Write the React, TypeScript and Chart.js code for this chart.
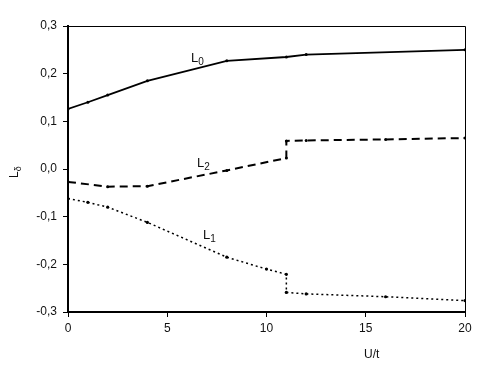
import React, { useEffect, useRef } from "react";
import { Chart, registerables } from "chart.js";

Chart.register(...registerables);

const L0_X = [0, 1, 2, 4, 8, 11, 12, 20];
const L0_Y = [0.126, 0.14, 0.155, 0.185, 0.227, 0.235, 0.24, 0.25];

const L2_X = [0, 2, 4, 8, 11, 11, 12, 16, 20];
const L2_Y = [-0.027, -0.037, -0.036, -0.003, 0.023, 0.059, 0.06, 0.062, 0.065];

const L1_X = [0, 1, 2, 4, 8, 10, 11, 11, 12, 16, 20];
const L1_Y = [-0.062, -0.07, -0.08, -0.112, -0.185, -0.21, -0.221, -0.259, -0.262, -0.268, -0.276];

const X_TICKS = [0, 5, 10, 15, 20];
const Y_TICKS = [-0.3, -0.2, -0.1, 0, 0.1, 0.2, 0.3];

// curve labels: [main, subscript, x value, y value]
const CURVE_LABELS: [string, string, number, number][] = [
  ["L", "0", 6.2, 0.224],
  ["L", "2", 6.5, 0.004],
  ["L", "1", 6.8, -0.147],
];

const X_TITLE = "U/t";
const Y_TITLE_MAIN = "L";
const Y_TITLE_SUB = "δ";

const FONT = "'Liberation Sans', Arial, sans-serif";

const pts = (xs: number[], ys: number[]) => xs.map((x, i) => ({ x, y: ys[i] }));

const decorPlugin = {
  id: "decor",
  afterDraw(chart: any) {
    const { ctx, chartArea, scales } = chart;
    const { left, right, top, bottom } = chartArea;
    ctx.save();
    ctx.strokeStyle = "#000";
    ctx.lineWidth = 1;
    ctx.beginPath();
    ctx.moveTo(left, top + 0.5);
    ctx.lineTo(right + 0.5, top + 0.5);
    ctx.lineTo(right + 0.5, bottom);
    ctx.stroke();

    ctx.fillStyle = "#111";
    ctx.textBaseline = "alphabetic";
    for (const [m, s, xv, yv] of CURVE_LABELS) {
      const px = scales.x.getPixelForValue(xv);
      const py = scales.y.getPixelForValue(yv);
      ctx.font = `13px ${FONT}`;
      ctx.textAlign = "left";
      ctx.fillText(m, px, py);
      const w = ctx.measureText(m).width;
      ctx.font = `10px ${FONT}`;
      ctx.fillText(s, px + w, py + 3);
    }
    ctx.font = `12px ${FONT}`;
    ctx.textAlign = "center";
    ctx.fillText(X_TITLE, left + 0.765 * (right - left), 358);
    ctx.translate(18, 172);
    ctx.rotate(-Math.PI / 2);
    ctx.font = `12px ${FONT}`;
    ctx.textAlign = "left";
    ctx.fillText(Y_TITLE_MAIN, -6, 0);
    const w2 = ctx.measureText(Y_TITLE_MAIN).width;
    ctx.font = `9px ${FONT}`;
    ctx.fillText(Y_TITLE_SUB, -6 + w2, 3);
    ctx.restore();
  },
};

export default function App() {
  const ref = useRef<HTMLCanvasElement>(null);
  useEffect(() => {
    const chart = new Chart(ref.current!, {
      type: "line",
      data: {
        datasets: [
          {
            label: "L0",
            data: pts(L0_X, L0_Y),
            borderColor: "#000",
            backgroundColor: "#000",
            borderWidth: 1.8,
            pointRadius: 1.5,
            pointBorderWidth: 0,
            tension: 0,
          },
          {
            label: "L2",
            data: pts(L2_X, L2_Y),
            borderColor: "#000",
            backgroundColor: "#000",
            borderWidth: 2,
            borderDash: [8, 5],
            pointRadius: 1.5,
            pointBorderWidth: 0,
            tension: 0,
          },
          {
            label: "L1",
            data: pts(L1_X, L1_Y),
            borderColor: "#000",
            backgroundColor: "#000",
            borderWidth: 1.5,
            borderDash: [2, 3],
            pointRadius: 1.6,
            pointBorderWidth: 0,
            tension: 0,
          },
        ],
      },
      options: {
        animation: false,
        responsive: false,
        layout: { padding: { top: 26, right: 26, left: 0, bottom: 0 } },
        plugins: { legend: { display: false }, tooltip: { enabled: false } },
        scales: {
          x: {
            type: "linear",
            min: 0,
            max: 20,
            afterBuildTicks: (s: any) => {
              s.ticks = X_TICKS.map((v) => ({ value: v }));
            },
            afterFit: (s: any) => {
              s.height = 56;
            },
            grid: { drawOnChartArea: false, drawTicks: true, tickLength: 5, color: "#000" },
            border: { display: true, color: "#000", width: 2 },
            ticks: {
              color: "#111",
              padding: 4,
              maxRotation: 0,
              font: { family: FONT, size: 12 },
              callback: (v: any) => String(v),
            },
          },
          y: {
            type: "linear",
            min: -0.3,
            max: 0.3,
            afterBuildTicks: (s: any) => {
              s.ticks = Y_TICKS.map((v) => ({ value: v }));
            },
            afterFit: (s: any) => {
              s.width = 68;
            },
            grid: { drawOnChartArea: false, drawTicks: true, tickLength: 5, color: "#000" },
            border: { display: true, color: "#000", width: 2 },
            ticks: {
              color: "#111",
              padding: 6,
              font: { family: FONT, size: 12 },
              callback: (v: any) => Number(v).toFixed(1).replace(".", ","),
            },
          },
        },
      },
      plugins: [decorPlugin],
    });
    return () => chart.destroy();
  }, []);
  return (
    <div style={{ position: "fixed", left: 0, top: 0, width: 491, height: 368, background: "#fff" }}>
      <canvas ref={ref} width={491} height={368} />
    </div>
  );
}
